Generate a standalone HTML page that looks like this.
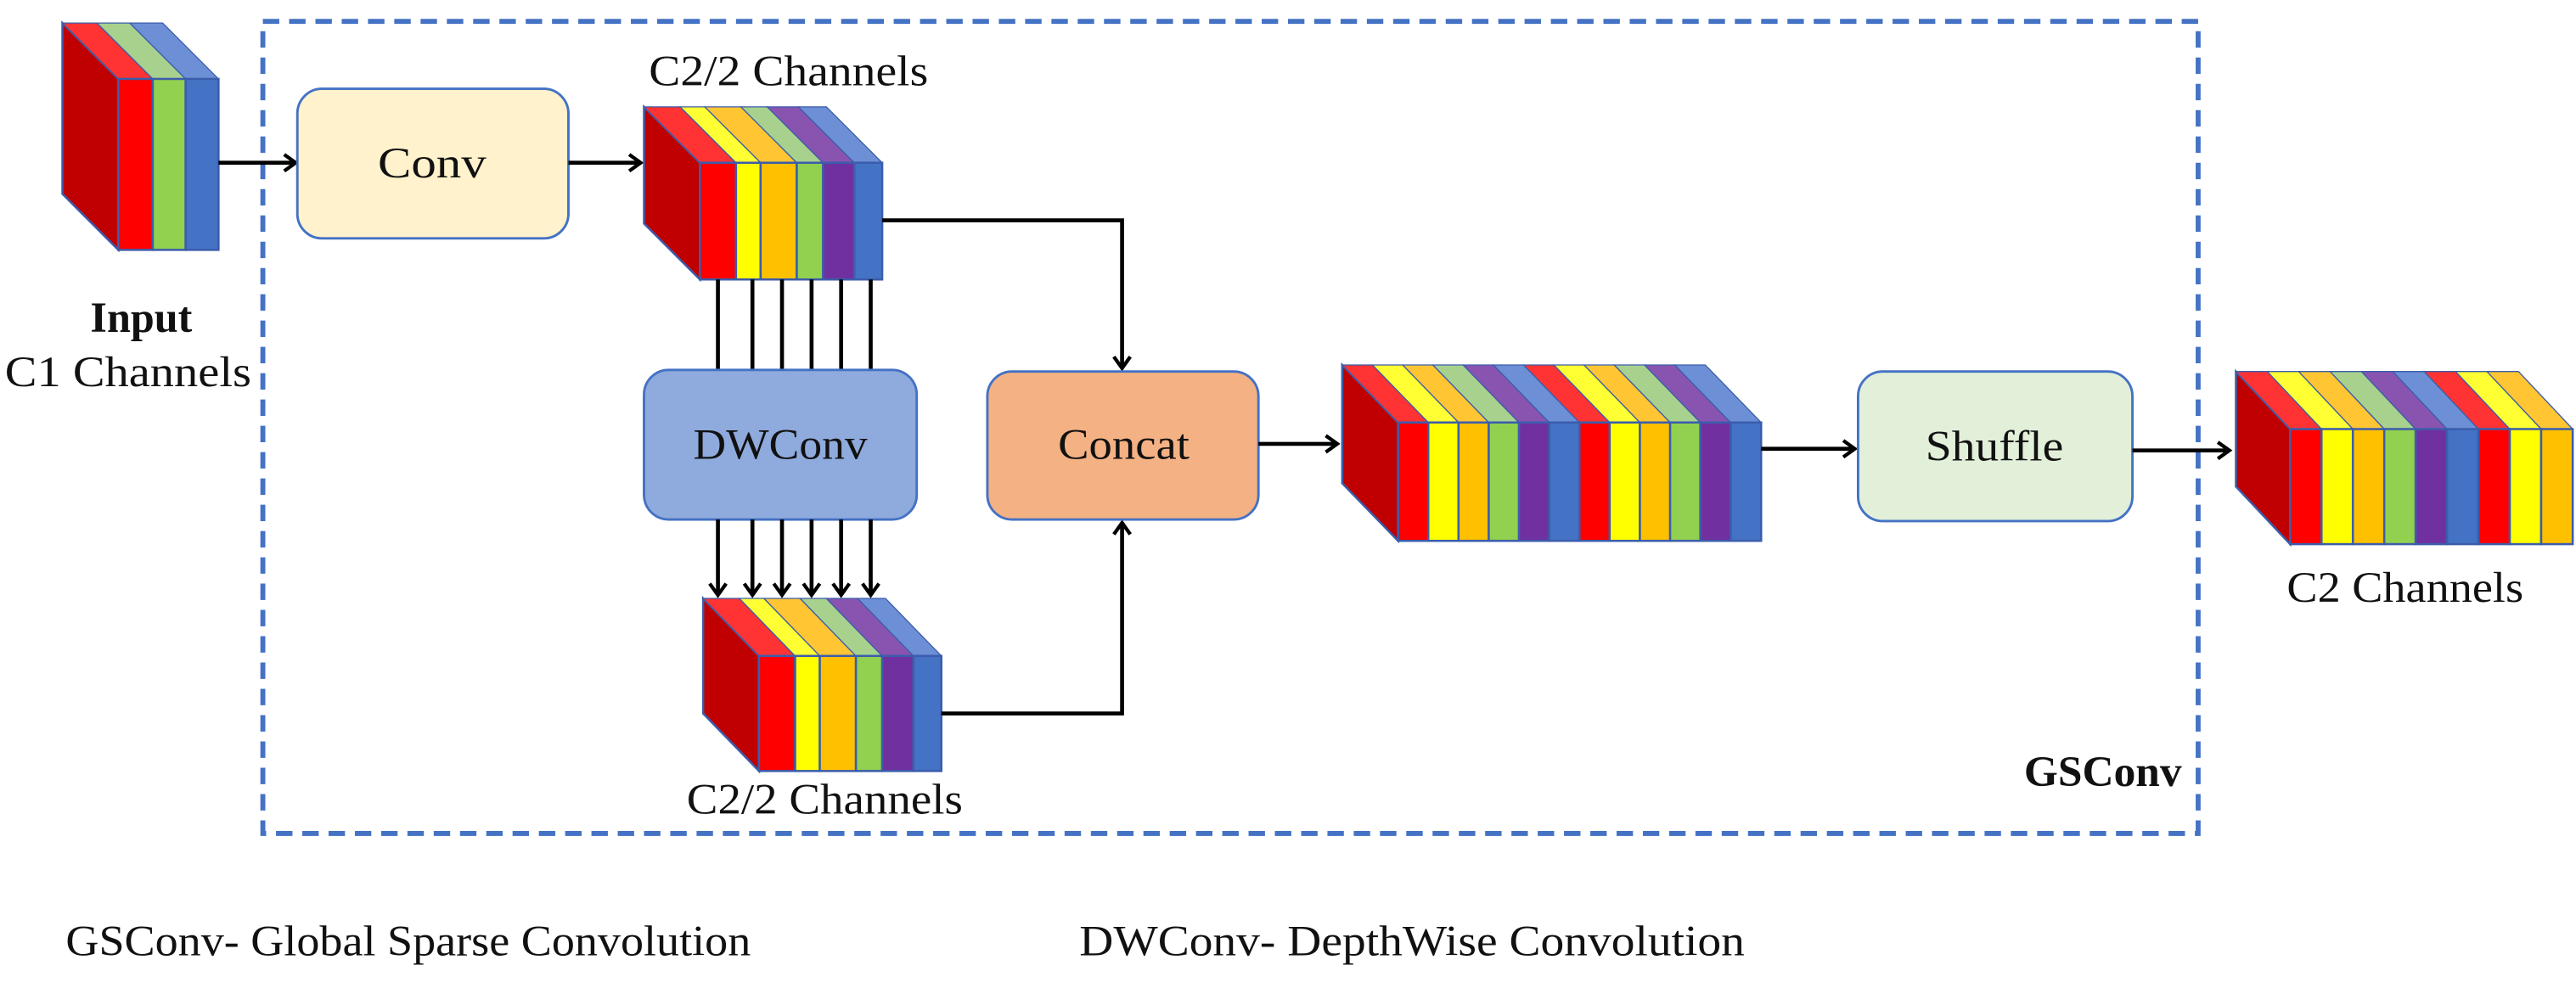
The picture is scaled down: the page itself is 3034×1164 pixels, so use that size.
<!DOCTYPE html>
<html><head><meta charset="utf-8"><style>html,body{margin:0;padding:0;background:#fff}svg{display:block}</style></head>
<body>
<svg width="3034" height="1164" viewBox="0 0 1568 601" preserveAspectRatio="none" xmlns="http://www.w3.org/2000/svg" font-family="'Liberation Serif', serif">
<defs>
<marker id="ah" markerWidth="12" markerHeight="12" refX="9" refY="6" orient="auto" markerUnits="userSpaceOnUse">
<path d="M2,1 L9,6 L2,11" fill="none" stroke="#000" stroke-width="2.2"/>
</marker>
</defs>
<style>
.s{stroke:#3b5dab;stroke-width:1.3}
.ts rect{stroke:#3b5dab;stroke-width:1.3;vector-effect:non-scaling-stroke}
.ln{stroke:#000;stroke-width:2.4;fill:none}
.t{font-size:26px;fill:#111}
</style>

<!-- dashed GSConv box -->
<rect x="160" y="13" width="1178" height="494" fill="none" stroke="#4472c4" stroke-width="3" stroke-dasharray="10,6"/>

<!-- Input cube: bx=38 by=14 dx=34 dy=34 W=61 H=104 -->
<polygon class="s" points="38,14 72,48 72,152 38,118" fill="#c00000"/>
<g class="ts" transform="matrix(1,0,34,34,38,14)">
<rect x="0" y="0" width="21" height="1" fill="#ff3333"/>
<rect x="21" y="0" width="20" height="1" fill="#a9d18e"/>
<rect x="41" y="0" width="20" height="1" fill="#6d8fd6"/>
</g>
<rect class="s" x="72" y="48" width="21" height="104" fill="#ff0000"/>
<rect class="s" x="93" y="48" width="20" height="104" fill="#92d050"/>
<rect class="s" x="113" y="48" width="20" height="104" fill="#4472c4"/>
<text x="86" y="202" text-anchor="middle" class="t" font-weight="bold" textLength="62" lengthAdjust="spacingAndGlyphs">Input</text>
<text x="78" y="235" text-anchor="middle" class="t" textLength="150" lengthAdjust="spacingAndGlyphs">C1 Channels</text>

<!-- arrows input->conv -->
<line class="ln" x1="133" y1="99" x2="180" y2="99" marker-end="url(#ah)"/>
<rect x="181" y="54" width="165" height="91" rx="15" fill="#fff2cc" stroke="#4472c4" stroke-width="1.5"/>
<text x="263" y="108" text-anchor="middle" class="t" textLength="66" lengthAdjust="spacingAndGlyphs">Conv</text>
<line class="ln" x1="346" y1="99" x2="390" y2="99" marker-end="url(#ah)"/>

<!-- Cube1: bx=392 by=65 dx=34 dy=34 W=111 H=71 -->
<text x="480" y="52" text-anchor="middle" class="t" textLength="170" lengthAdjust="spacingAndGlyphs">C2/2 Channels</text>
<polygon class="s" points="392,65 426,99 426,170 392,136" fill="#c00000"/>
<g class="ts" transform="matrix(1,0,34,34,392,65)">
<rect x="0" y="0" width="22" height="1" fill="#ff3333"/>
<rect x="22" y="0" width="15" height="1" fill="#ffff33"/>
<rect x="37" y="0" width="22" height="1" fill="#ffc533"/>
<rect x="59" y="0" width="16" height="1" fill="#a9d18e"/>
<rect x="75" y="0" width="19" height="1" fill="#8954b0"/>
<rect x="94" y="0" width="17" height="1" fill="#6d8fd6"/>
</g>
<rect class="s" x="426" y="99" width="22" height="71" fill="#ff0000"/>
<rect class="s" x="448" y="99" width="15" height="71" fill="#ffff00"/>
<rect class="s" x="463" y="99" width="22" height="71" fill="#ffc000"/>
<rect class="s" x="485" y="99" width="16" height="71" fill="#92d050"/>
<rect class="s" x="501" y="99" width="19" height="71" fill="#7030a0"/>
<rect class="s" x="520" y="99" width="17" height="71" fill="#4472c4"/>

<!-- vertical lines to DWConv -->
<g class="ln">
<line x1="437" y1="170" x2="437" y2="225"/><line x1="458" y1="170" x2="458" y2="225"/>
<line x1="476" y1="170" x2="476" y2="225"/><line x1="494" y1="170" x2="494" y2="225"/>
<line x1="512" y1="170" x2="512" y2="225"/><line x1="530" y1="170" x2="530" y2="225"/>
</g>
<rect x="392" y="225" width="166" height="91" rx="15" fill="#8faadc" stroke="#4472c4" stroke-width="1.5"/>
<text x="475" y="279" text-anchor="middle" class="t" textLength="106" lengthAdjust="spacingAndGlyphs">DWConv</text>
<g class="ln">
<line x1="437" y1="316" x2="437" y2="362" marker-end="url(#ah)"/><line x1="458" y1="316" x2="458" y2="362" marker-end="url(#ah)"/>
<line x1="476" y1="316" x2="476" y2="362" marker-end="url(#ah)"/><line x1="494" y1="316" x2="494" y2="362" marker-end="url(#ah)"/>
<line x1="512" y1="316" x2="512" y2="362" marker-end="url(#ah)"/><line x1="530" y1="316" x2="530" y2="362" marker-end="url(#ah)"/>
</g>

<!-- Cube2: bx=428 by=364 dx=34 dy=35 W=111 H=70 -->
<polygon class="s" points="428,364 462,399 462,469 428,434" fill="#c00000"/>
<g class="ts" transform="matrix(1,0,34,35,428,364)">
<rect x="0" y="0" width="22" height="1" fill="#ff3333"/>
<rect x="22" y="0" width="15" height="1" fill="#ffff33"/>
<rect x="37" y="0" width="22" height="1" fill="#ffc533"/>
<rect x="59" y="0" width="16" height="1" fill="#a9d18e"/>
<rect x="75" y="0" width="19" height="1" fill="#8954b0"/>
<rect x="94" y="0" width="17" height="1" fill="#6d8fd6"/>
</g>
<rect class="s" x="462" y="399" width="22" height="70" fill="#ff0000"/>
<rect class="s" x="484" y="399" width="15" height="70" fill="#ffff00"/>
<rect class="s" x="499" y="399" width="22" height="70" fill="#ffc000"/>
<rect class="s" x="521" y="399" width="16" height="70" fill="#92d050"/>
<rect class="s" x="537" y="399" width="19" height="70" fill="#7030a0"/>
<rect class="s" x="556" y="399" width="17" height="70" fill="#4472c4"/>
<text x="502" y="495" text-anchor="middle" class="t" textLength="168" lengthAdjust="spacingAndGlyphs">C2/2 Channels</text>

<!-- connectors to concat -->
<polyline class="ln" points="537,134 683,134 683,224" marker-end="url(#ah)"/>
<polyline class="ln" points="573,434 683,434 683,318" marker-end="url(#ah)"/>
<rect x="601" y="226" width="165" height="90" rx="15" fill="#f4b183" stroke="#4472c4" stroke-width="1.5"/>
<text x="684" y="279" text-anchor="middle" class="t" textLength="80" lengthAdjust="spacingAndGlyphs">Concat</text>
<line class="ln" x1="766" y1="270" x2="814" y2="270" marker-end="url(#ah)"/>

<!-- Big cube: bx=817 by=222 dx=34 dy=35 W=221 H=72 -->
<polygon class="s" points="817,222 851,257 851,329 817,294" fill="#c00000"/>
<g class="ts" transform="matrix(1,0,34,35,817,222)">
<rect x="0" y="0" width="18.4" height="1" fill="#ff3333"/>
<rect x="18.4" y="0" width="18.4" height="1" fill="#ffff33"/>
<rect x="36.8" y="0" width="18.4" height="1" fill="#ffc533"/>
<rect x="55.2" y="0" width="18.4" height="1" fill="#a9d18e"/>
<rect x="73.6" y="0" width="18.4" height="1" fill="#8954b0"/>
<rect x="92" y="0" width="18.4" height="1" fill="#6d8fd6"/>
<rect x="110.4" y="0" width="18.4" height="1" fill="#ff3333"/>
<rect x="128.8" y="0" width="18.4" height="1" fill="#ffff33"/>
<rect x="147.2" y="0" width="18.4" height="1" fill="#ffc533"/>
<rect x="165.6" y="0" width="18.4" height="1" fill="#a9d18e"/>
<rect x="184" y="0" width="18.4" height="1" fill="#8954b0"/>
<rect x="202.4" y="0" width="18.6" height="1" fill="#6d8fd6"/>
</g>
<rect class="s" x="851" y="257" width="18.4" height="72" fill="#ff0000"/>
<rect class="s" x="869.4" y="257" width="18.4" height="72" fill="#ffff00"/>
<rect class="s" x="887.8" y="257" width="18.4" height="72" fill="#ffc000"/>
<rect class="s" x="906.2" y="257" width="18.4" height="72" fill="#92d050"/>
<rect class="s" x="924.6" y="257" width="18.4" height="72" fill="#7030a0"/>
<rect class="s" x="943" y="257" width="18.4" height="72" fill="#4472c4"/>
<rect class="s" x="961.4" y="257" width="18.4" height="72" fill="#ff0000"/>
<rect class="s" x="979.8" y="257" width="18.4" height="72" fill="#ffff00"/>
<rect class="s" x="998.2" y="257" width="18.4" height="72" fill="#ffc000"/>
<rect class="s" x="1016.6" y="257" width="18.4" height="72" fill="#92d050"/>
<rect class="s" x="1035" y="257" width="18.4" height="72" fill="#7030a0"/>
<rect class="s" x="1053.4" y="257" width="18.6" height="72" fill="#4472c4"/>

<line class="ln" x1="1072" y1="273" x2="1129" y2="273" marker-end="url(#ah)"/>
<rect x="1131" y="226" width="167" height="91" rx="15" fill="#e2efd9" stroke="#4472c4" stroke-width="1.5"/>
<text x="1214" y="280" text-anchor="middle" class="t" textLength="84" lengthAdjust="spacingAndGlyphs">Shuffle</text>
<line class="ln" x1="1298" y1="274" x2="1357" y2="274" marker-end="url(#ah)"/>

<!-- Output cube: bx=1361 by=226 dx=33 dy=35 W=172 H=70 -->
<polygon class="s" points="1361,226 1394,261 1394,331 1361,296" fill="#c00000"/>
<g class="ts" transform="matrix(1,0,33,35,1361,226)">
<rect x="0" y="0" width="19.1" height="1" fill="#ff3333"/>
<rect x="19.1" y="0" width="19.1" height="1" fill="#ffff33"/>
<rect x="38.2" y="0" width="19.1" height="1" fill="#ffc533"/>
<rect x="57.3" y="0" width="19.1" height="1" fill="#a9d18e"/>
<rect x="76.4" y="0" width="19.1" height="1" fill="#8954b0"/>
<rect x="95.5" y="0" width="19.1" height="1" fill="#6d8fd6"/>
<rect x="114.6" y="0" width="19.1" height="1" fill="#ff3333"/>
<rect x="133.7" y="0" width="19.1" height="1" fill="#ffff33"/>
<rect x="152.8" y="0" width="19.2" height="1" fill="#ffc533"/>
</g>
<rect class="s" x="1394" y="261" width="19.1" height="70" fill="#ff0000"/>
<rect class="s" x="1413.1" y="261" width="19.1" height="70" fill="#ffff00"/>
<rect class="s" x="1432.2" y="261" width="19.1" height="70" fill="#ffc000"/>
<rect class="s" x="1451.3" y="261" width="19.1" height="70" fill="#92d050"/>
<rect class="s" x="1470.4" y="261" width="19.1" height="70" fill="#7030a0"/>
<rect class="s" x="1489.5" y="261" width="19.1" height="70" fill="#4472c4"/>
<rect class="s" x="1508.6" y="261" width="19.1" height="70" fill="#ff0000"/>
<rect class="s" x="1527.7" y="261" width="19.1" height="70" fill="#ffff00"/>
<rect class="s" x="1546.8" y="261" width="19.2" height="70" fill="#ffc000"/>
<text x="1464" y="366" text-anchor="middle" class="t" textLength="144" lengthAdjust="spacingAndGlyphs">C2 Channels</text>

<text x="1328" y="478" text-anchor="end" class="t" font-weight="bold" textLength="96" lengthAdjust="spacingAndGlyphs">GSConv</text>

<text x="40" y="581" class="t" textLength="417" lengthAdjust="spacingAndGlyphs">GSConv- Global Sparse Convolution</text>
<text x="657" y="581" class="t" textLength="405" lengthAdjust="spacingAndGlyphs">DWConv- DepthWise  Convolution</text>
</svg>
</body></html>
